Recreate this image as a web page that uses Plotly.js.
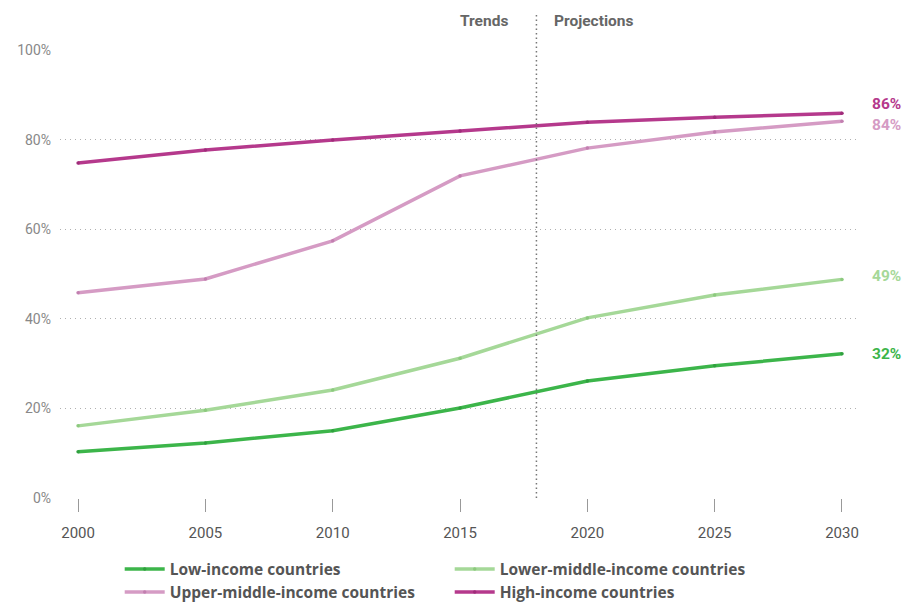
<!DOCTYPE html>
<html><head><meta charset="utf-8">
<script src="https://cdn.plot.ly/plotly-3.0.1.min.js"></script>
<style>body{margin:0;background:#fff}#chart{width:911px;height:607px}</style>
</head><body><div id="chart"></div>
<script>
const years = [2000, 2005, 2010, 2015, 2020, 2025, 2030];
const seriesNames = ["Low-income countries", "Lower-middle-income countries", "Upper-middle-income countries", "High-income countries"];
const lowIncome = [10.3, 12.3, 15.0, 20.1, 26.1, 29.5, 32.2];
const lowerMiddle = [16.1, 19.6, 24.1, 31.2, 40.2, 45.3, 48.8];
const upperMiddle = [45.8, 48.9, 57.4, 71.9, 78.1, 81.7, 84.1];
const highIncome = [74.8, 77.7, 79.9, 81.9, 83.9, 85.0, 85.9];
const endLabels = ["32%", "49%", "84%", "86%"];
const yTickVals = [0, 20, 40, 60, 80, 100];
const yTickText = ["0%", "20%", "40%", "60%", "80%", "100%"];
const colors = ["#3cb54a", "#a5d898", "#d59bc4", "#b5398c"];
const markerColors = ["#2fa03e", "#8cc97e", "#c27fb0", "#a02c7a"];
const dividerYear = 2018;
const sectionLabels = ["Trends", "Projections"];

const values = [lowIncome, lowerMiddle, upperMiddle, highIncome];
const font = "Roboto, 'DejaVu Sans', sans-serif";
const lfont = "'Open Sans', Roboto, sans-serif";
const traces = values.map((v, i) => ({
  x: years, y: v, name: seriesNames[i], type: "scatter", mode: "lines+markers",
  line: {color: colors[i], width: 3.5}, marker: {size: 3.5, color: markerColors[i]}, hoverinfo: "skip"
}));
const yshifts = [0, 3, -4, 9];
const annotations = values.map((v, i) => ({
  x: years[years.length - 1], y: v[v.length - 1], xref: "x", yref: "y",
  text: "<b>" + endLabels[i] + "</b>", showarrow: false, xanchor: "left",
  xshift: 28, yshift: yshifts[i], font: {family: font, size: 15.5, color: colors[i]}
}));
annotations.push({x: dividerYear, y: 1.04, xref: "x", yref: "paper", text: "<b>" + sectionLabels[0] + "</b>",
  showarrow: false, xanchor: "right", yanchor: "bottom", xshift: -26, font: {family: font, size: 15.5, color: "#666"}});
annotations.push({x: dividerYear, y: 1.04, xref: "x", yref: "paper", text: "<b>" + sectionLabels[1] + "</b>",
  showarrow: false, xanchor: "left", yanchor: "bottom", xshift: 16, font: {family: font, size: 15.5, color: "#666"}});

Plotly.newPlot("chart", traces, {
  width: 911, height: 607,
  margin: {l: 60, r: 55, t: 50, b: 109, autoexpand: false},
  paper_bgcolor: "#fff", plot_bgcolor: "#fff",
  font: {family: font},
  xaxis: {range: [1999.29, 2030.55], tickvals: years, ticks: "outside", ticklen: 13, tickwidth: 1,
    tickcolor: "#999", showgrid: false, zeroline: false, showline: false, automargin: false,
    tickfont: {size: 15, color: "#555"}, ticklabelstandoff: 8},
  yaxis: {range: [0, 100], tickvals: yTickVals, ticktext: yTickText, automargin: false,
    showgrid: true, gridcolor: "#b0b0b0", griddash: "1px,4px", gridwidth: 1, zeroline: false,
    tickfont: {size: 14, color: "#888"}, ticklabelstandoff: 8},
  shapes: [{type: "line", xref: "x", yref: "paper", x0: dividerYear, x1: dividerYear, y0: 0, y1: 1.08,
    line: {color: "#777", width: 1.5, dash: "1.5px,3px"}}],
  annotations: annotations,
  showlegend: true,
  legend: {orientation: "h", x: 0.075, y: 0.09, xref: "paper", yref: "container", xanchor: "left", yanchor: "top",
    entrywidth: 275, entrywidthmode: "pixels", tracegroupgap: 0, itemwidth: 40,
    font: {family: lfont, size: 15.5, color: "#555", weight: "bold"}}
}, {displayModeBar: false, staticPlot: true});
</script></body></html>
